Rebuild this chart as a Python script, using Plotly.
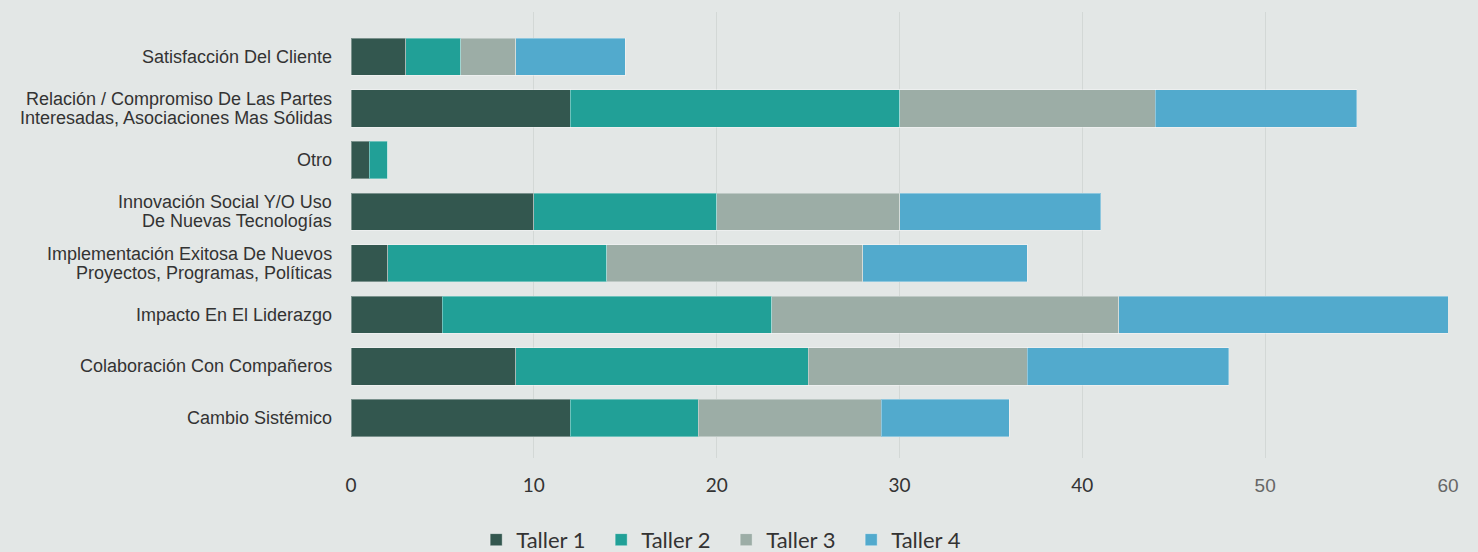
import plotly.graph_objects as go

categories = [
    "Satisfacción Del Cliente",
    "Relación / Compromiso De Las Partes<br>Interesadas, Asociaciones Mas Sólidas",
    "Otro",
    "Innovación Social Y/O Uso<br>De Nuevas Tecnologías",
    "Implementación Exitosa De Nuevos<br>Proyectos, Programas, Políticas",
    "Impacto En El Liderazgo",
    "Colaboración Con Compañeros",
    "Cambio Sistémico",
]
series_names = ["Taller 1", "Taller 2", "Taller 3", "Taller 4"]
taller1 = [3, 12, 1, 10, 2, 5, 9, 12]
taller2 = [3, 18, 1, 10, 12, 18, 16, 7]
taller3 = [3, 14, 0, 10, 14, 19, 12, 10]
taller4 = [6, 11, 0, 11, 9, 18, 11, 7]
tick_vals = [0, 10, 20, 30, 40, 50, 60]
tick_text = ["0", "10", "20", "30", "40",
             '<span style="font-family:Liberation Sans;fill:#666666">50</span>',
             '<span style="font-family:Liberation Sans;fill:#666666">60</span>']

colors = ["#33574f", "#21a097", "#9cada6", "#52aacd"]
values = [taller1, taller2, taller3, taller4]

fig = go.Figure()
for name, vals, col in zip(series_names, values, colors):
    fig.add_trace(go.Bar(
        y=categories, x=vals, name=name, orientation="h",
        marker=dict(color=col, line=dict(color="rgba(255,255,255,0.35)", width=1)),
        width=0.72,
    ))

# category labels with tight line spacing
annotations = []
for cat in categories:
    lines = cat.split("<br>")
    n = len(lines)
    for i, ln in enumerate(lines):
        annotations.append(dict(
            x=0, xref="paper", y=cat, yref="y", xanchor="right", yanchor="middle",
            xshift=-17, yshift=(n - 1) * 9.75 - i * 19.5, text=ln, showarrow=False,
            font=dict(family="Liberation Sans", size=18, color="#333333"),
        ))

bg = "#e3e7e6"
fig.update_layout(
    barmode="stack",
    paper_bgcolor=bg, plot_bgcolor=bg,
    width=1478, height=552,
    margin=dict(l=351, r=30, t=12, b=94),
    font=dict(family="Liberation Sans, Arial", color="#333333"),
    legend=dict(orientation="h", x=0.342, xanchor="center", yref="container",
                y=0.022, yanchor="middle",
                traceorder="normal", font=dict(family="Lato", size=22, color="#333333"),
                itemwidth=30, entrywidth=80),
    xaxis=dict(range=[0, 60], tickvals=tick_vals, ticktext=tick_text, showgrid=True,
               gridcolor="#d3d8d6", gridwidth=1, zeroline=False, showline=False,
               tickfont=dict(family="Lato", size=19, color="#333333"), ticks="",
               ticklabelstandoff=14, automargin=False),
    yaxis=dict(categoryorder="array", categoryarray=categories, range=[7.775, -0.87],
               showgrid=False, zeroline=False, ticks="", showticklabels=False),
    annotations=annotations,
)

fig.write_html("out.html", config={"displayModeBar": False},
               post_script="document.body.style.margin='0';")
